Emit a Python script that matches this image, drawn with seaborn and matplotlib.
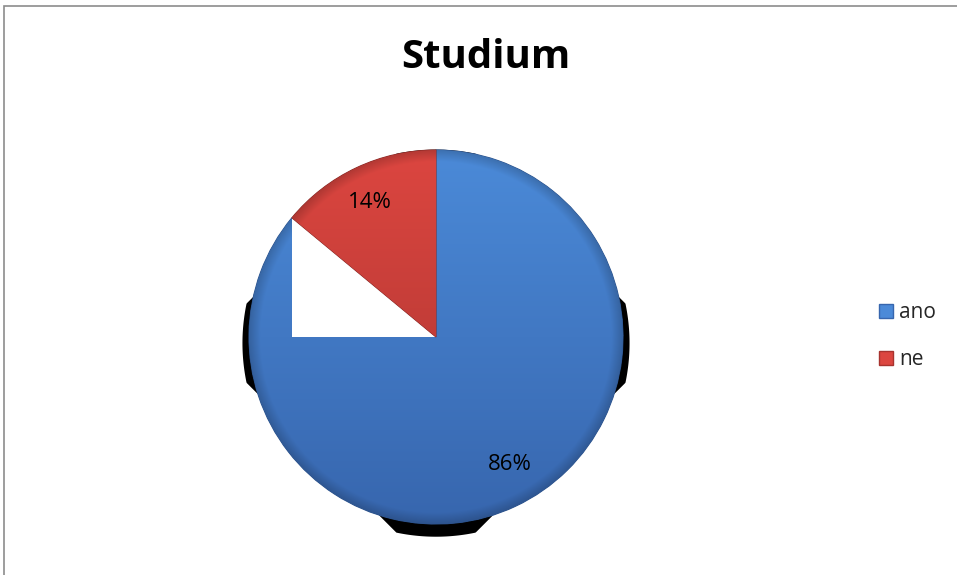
import numpy as np
import matplotlib
matplotlib.use("Agg")
import matplotlib.pyplot as plt
import seaborn as sns
from matplotlib.patches import Rectangle, Polygon, Patch
from matplotlib.colors import to_rgb

# ---- data ----
title = "Studium"
categories = ["ano", "ne"]
values = [86, 14]
labels = ["86%", "14%"]

sns.set_theme(style="white")
plt.rcParams['font.family'] = ['Open Sans', 'DejaVu Sans']

W, H = 957, 575
fig = plt.figure(figsize=(W / 100, H / 100), dpi=100)
fig.patch.set_facecolor("white")

# outer frame (gray, clipped at right/bottom)
fig.add_artist(Rectangle((4 / W, -0.1), 1.2, (H - 6) / H + 0.1, transform=fig.transFigure,
                         fill=False, edgecolor="#8c8c8c", linewidth=1.2))

# pie axes: center (436, 337) px, radius 187 px
cx, cy, R = 436, 337, 187
half = 205
ax = fig.add_axes([(cx - half) / W, (H - cy - half) / H, 2 * half / W, 2 * half / H])
L = half / R
ax.axis("off")

light_dark = {
    "ano": ("#4B8AD8", "#3766AE"),
    "ne": ("#DC4640", "#A8332F"),
}

# shadow
t = np.linspace(0, 2 * np.pi, 1440)
Rs, d, off = 1.035, 1.225, 0.033
rr = np.minimum(Rs, d / (np.abs(np.cos(t)) + np.abs(np.sin(t))))
ax.add_patch(Polygon(np.column_stack([rr * np.cos(t), rr * np.sin(t) - off]),
                     closed=True, facecolor="black", edgecolor="none", zorder=0))

wedges, _ = ax.pie(values, startangle=90, counterclock=False, radius=1,
                   colors=[light_dark[c][0] for c in categories],
                   wedgeprops=dict(linewidth=0))
# gradient fills
n = 500
xs = np.linspace(-L, L, n)
X, Y = np.meshgrid(xs, xs[::-1])
r = np.sqrt(X ** 2 + Y ** 2)
tt = np.clip((Y + 1) / 2, 0, 1)
rim = 1 - 0.18 * np.clip((r - 0.94) / 0.06, 0, 1)
for i, (w, c) in enumerate(zip(wedges, categories)):
    lt, dk = np.array(to_rgb(light_dark[c][0])), np.array(to_rgb(light_dark[c][1]))
    img = dk[None, None, :] + (lt - dk)[None, None, :] * tt[..., None]
    img = np.clip(img * rim[..., None], 0, 1)
    z = 1 if c == "ano" else 3
    im = ax.imshow(img, extent=[-L, L, -L, L], zorder=z, interpolation="bilinear")
    im.set_clip_path(w)
    w.set_zorder(z - 0.5)
    w.set_edgecolor(tuple(np.array(to_rgb(light_dark[c][1])) * 0.8))
    w.set_linewidth(0.8)

# rendering artifact: white square from centre to the end of the "ne" wedge
ang = np.deg2rad(90 + 360 * values[1] / sum(values))
ex, ey = np.cos(ang), np.sin(ang)
ax.add_patch(Rectangle((ex, 0), -ex, ey, facecolor="white", edgecolor="none", zorder=2))

# percentage labels
ax.text(0.395, -0.68, labels[0], ha="center", va="center", fontsize=16, color="black", zorder=5)
ax.text(-0.355, 0.72, labels[1], ha="center", va="center", fontsize=16, color="black", zorder=5)

ax.set_xlim(-L, L)
ax.set_ylim(-L, L)
ax.set_aspect("equal")

fig.text(486 / W, 1 - 58 / H, title, ha="center", va="center", fontsize=29,
         fontweight="bold", color="black")

handles = [Patch(facecolor=light_dark[c][0], edgecolor=light_dark[c][1], label=c) for c in categories]
fig.legend(handles=handles, loc="center left", bbox_to_anchor=(879 / W, 1 - 336 / H),
           frameon=False, fontsize=15, handlelength=0.65, handleheight=0.65,
           handletextpad=0.3, labelspacing=1.25, borderpad=0, borderaxespad=0)

fig.savefig("out.png", dpi=100, facecolor="white")
